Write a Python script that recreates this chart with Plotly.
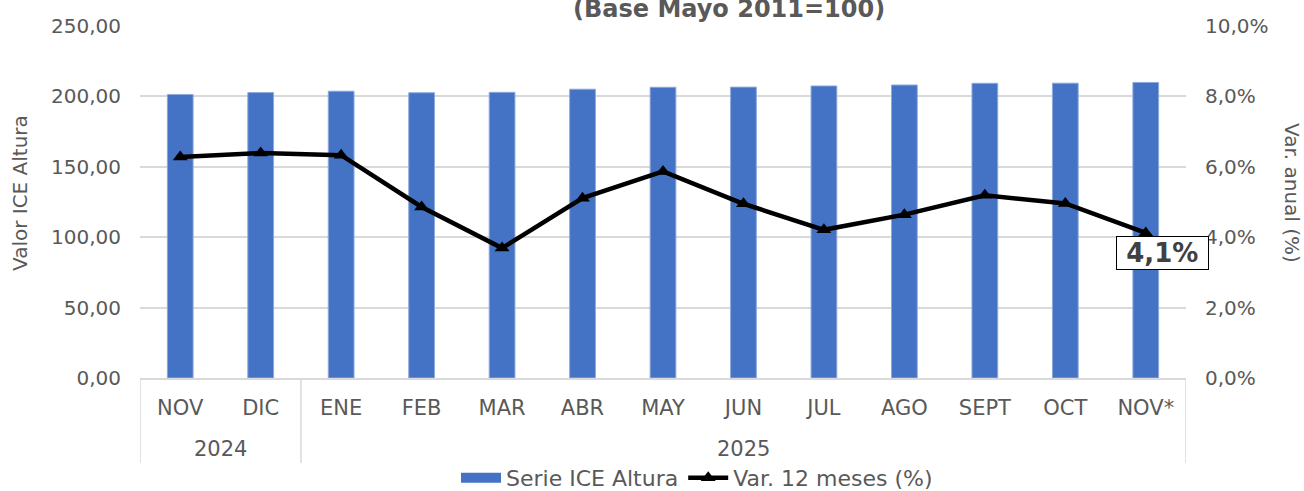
import plotly.graph_objects as go

months = ["NOV", "DIC", "ENE", "FEB", "MAR", "ABR", "MAY", "JUN", "JUL", "AGO", "SEPT", "OCT", "NOV*"]
years = ["2024", "2025"]
year_spans = [(0, 1), (2, 12)]
ice_altura = [201.4, 202.7, 203.7, 202.6, 202.9, 205.1, 206.5, 206.6, 207.4, 208.1, 209.3, 209.4, 209.9]
var_12m = [6.28, 6.39, 6.33, 4.86, 3.69, 5.11, 5.87, 4.95, 4.21, 4.64, 5.19, 4.96, 4.12]
label_text = "4,1%"

W, H = 1304, 491
L, R, T, B = 140, 118, 26, 113
ph = H - T - B
pw = W - L - R

FONT = "Verdana, DejaVu Sans, sans-serif"
GREY = "#595959"
GRID = "#D9D9D9"
BLUE = "#4472C4"

fig = go.Figure()
fig.add_trace(go.Bar(
    x=months, y=ice_altura, name="Serie ICE Altura",
    marker=dict(color=BLUE, line=dict(color="#8EA9DB", width=1)),
    width=0.32, yaxis="y", legendgroup="ice", showlegend=False,
))
# legend swatch for the bar series (wide rectangle, as in the original)
fig.add_trace(go.Scatter(
    x=[None], y=[None], name="Serie ICE Altura", mode="lines",
    line=dict(color=BLUE, width=12), legendgroup="ice", showlegend=True, hoverinfo="skip",
))
fig.add_trace(go.Scatter(
    x=months, y=var_12m, name="Var. 12 meses (%)", mode="lines+markers",
    line=dict(color="black", width=4.5),
    marker=dict(symbol="triangle-up", size=13, color="black"),
    yaxis="y2",
))

def py(px):
    return (H - B - px) / ph

def pxx(px):
    return (px - L) / pw

annotations = [
    dict(text="<b>(Base Mayo 2011=100)</b>", xref="paper", yref="paper",
         x=pxx(729), y=py(9), showarrow=False, font=dict(size=24, color=GREY, family=FONT),
         xanchor="center", yanchor="middle"),
    dict(text="Valor ICE Altura", xref="paper", yref="paper", x=pxx(20), y=py(193),
         showarrow=False, textangle=-90, font=dict(size=20, color=GREY, family=FONT),
         xanchor="center", yanchor="middle"),
    dict(text="Var. anual (%)", xref="paper", yref="paper", x=pxx(1292), y=py(193),
         showarrow=False, textangle=90, font=dict(size=20, color=GREY, family=FONT),
         xanchor="center", yanchor="middle"),
    dict(text="&nbsp;<b>" + label_text + "</b>&nbsp;", xref="x", yref="y2", x=months[-1], y=var_12m[-1],
         xshift=17, yshift=-20, showarrow=False, bgcolor="white", bordercolor="black",
         borderwidth=1, borderpad=1, font=dict(size=26, color="#404040", family=FONT)),
]
for yr, (a, b) in zip(years, year_spans):
    annotations.append(dict(text=yr, xref="x", yref="paper", x=(a + b) / 2, y=py(449),
                            showarrow=False, font=dict(size=21, color=GREY, family=FONT),
                            xanchor="center", yanchor="middle"))

shapes = []
for xv in [-0.5, year_spans[0][1] + 0.5, len(months) - 0.5]:
    shapes.append(dict(type="line", xref="x", yref="paper", x0=xv, x1=xv, y0=0, y1=py(463),
                       line=dict(color=GRID, width=1.5)))

fig.update_layout(
    width=W, height=H, margin=dict(l=L, r=R, t=T, b=B, autoexpand=False),
    paper_bgcolor="white", plot_bgcolor="white",
    separators=",.",
    font=dict(family=FONT, size=20, color=GREY),
    showlegend=True,
    legend=dict(orientation="h", x=pxx(697), y=py(478), xanchor="center", yanchor="middle",
                font=dict(size=22, color=GREY), itemwidth=40, tracegroupgap=0),
    xaxis=dict(type="category", range=[-0.5, len(months) - 0.5], showgrid=False,
               showline=True, linecolor=GRID, linewidth=1.5, ticks="", ticklabelstandoff=10,
               tickfont=dict(size=21, color=GREY)),
    yaxis=dict(range=[0, 250], dtick=50, tickformat=".2f", showgrid=True, gridcolor=GRID,
               gridwidth=1.5, zeroline=False, ticklabelstandoff=18, tickfont=dict(size=20, color=GREY)),
    yaxis2=dict(range=[0, 10], dtick=2, tickformat=".1f", ticksuffix="%", overlaying="y",
                side="right", showgrid=False, zeroline=False, ticklabelstandoff=18,
                tickfont=dict(size=20, color=GREY)),
    annotations=annotations, shapes=shapes, bargap=0.68,
)

fig.write_html("out.html", config={"displayModeBar": False},
               post_script="document.body.style.margin='0';document.body.style.overflow='hidden';")
